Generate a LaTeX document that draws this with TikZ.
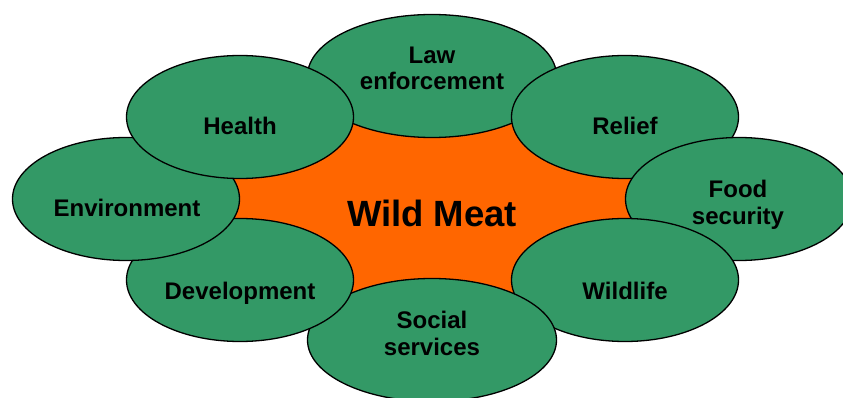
\documentclass[tikz,border=0pt]{standalone}
\usepackage{fontspec}
\setmainfont{Liberation Sans}
\usetikzlibrary{shapes.geometric}
\definecolor{leaf}{HTML}{339966}
\definecolor{hub}{HTML}{FF6600}
\begin{document}
\begin{tikzpicture}[x=1pt,y=-1pt,
  petal/.style={ellipse,draw=black,line width=1.3pt,fill=leaf,inner sep=0pt,
    minimum height=123pt},
  wide/.style={petal,minimum width=249pt},
  narrow/.style={petal,minimum width=227pt},
  lbl/.style={font=\fontsize{24}{26.7}\selectfont\bfseries,align=center,anchor=base,inner sep=0pt,text=black},
  hubtext/.style={font=\fontsize{36.5}{40}\selectfont\bfseries,anchor=base,inner sep=0pt,text=black}]
\useasboundingbox (0,0) rectangle (843,398);
\clip (0,0) rectangle (843,398);
% positions
\coordinate (cLaw) at (432,76);
\coordinate (cRel) at (625,117);
\coordinate (cFood) at (739,199);
\coordinate (cWild) at (625,280);
\coordinate (cSoc) at (432,340);
\coordinate (cDev) at (240,280);
\coordinate (cEnv) at (126,199);
\coordinate (cHea) at (240,117);
% orange hub
\fill[hub] (cLaw) -- (cRel) -- (cFood) -- (cWild) -- (cSoc) -- (cDev) -- (cEnv) -- (cHea) -- cycle;
% petals, in stacking order
\node[wide]   (law)  at (cLaw) {};
\node[narrow] (rel)  at (cRel) {};
\node[narrow] (food) at (cFood) {};
\node[narrow] (wild) at (cWild) {};
\node[wide]   (soc)  at (cSoc) {};
\node[narrow] (dev)  at (cDev) {};
\node[narrow] (env)  at (cEnv) {};
\node[narrow] (hea)  at (cHea) {};
% labels
\node[hubtext] (wm) at (432,226.7) {Wild Meat};
\node[lbl] (tlaw1) at (432,63.3) {Law};
\node[lbl] (tlaw2) at (432,90) {enforcement};
\node[lbl] (thea) at (240,135) {Health};
\node[lbl] (trel) at (625,135) {Relief};
\node[lbl] (tenv) at (127,217) {Environment};
\node[lbl] (tfood1) at (738,198) {Food};
\node[lbl] (tfood2) at (738,225) {security};
\node[lbl] (tdev) at (240,299) {Development};
\node[lbl] (twild) at (625,299) {Wildlife};
\node[lbl] (tsoc1) at (432,328.3) {Social};
\node[lbl] (tsoc2) at (432,355) {services};
\end{tikzpicture}
\end{document}
